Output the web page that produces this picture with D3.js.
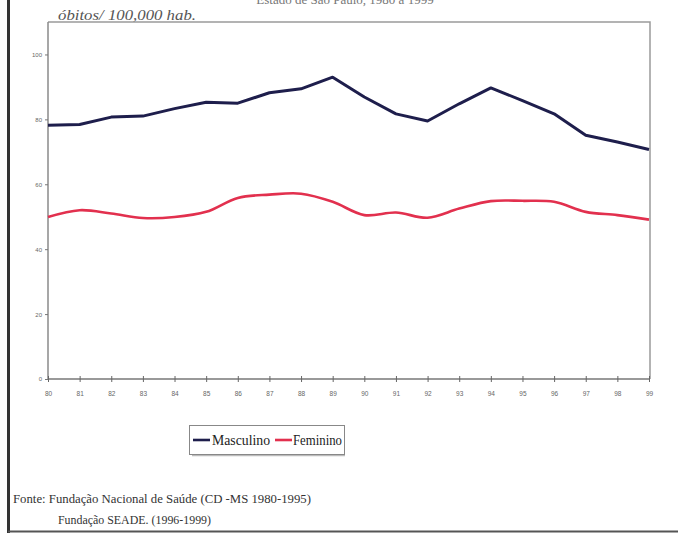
<!DOCTYPE html>
<html>
<head>
<meta charset="utf-8">
<script src="https://cdn.jsdelivr.net/npm/d3@7"></script>
<style>
  html, body { margin: 0; padding: 0; background: #fff; }
  svg { display: block; }
  .serif { font-family: "Liberation Serif", "Times New Roman", "DejaVu Serif", serif; }
  .sans { font-family: "Liberation Sans", Arial, sans-serif; }
</style>
</head>
<body>
<svg id="chart" width="678" height="533"></svg>
<script>
// Mortality rate per 100,000 inhabitants, 1980–1999
const years = ["80","81","82","83","84","85","86","87","88","89",
               "90","91","92","93","94","95","96","97","98","99"];
const masculino = [78.2, 78.4, 80.7, 81.0, 83.3, 85.3, 85.0, 88.2, 89.4, 93.0,
                   86.9, 81.7, 79.5, 84.8, 89.7, 85.8, 81.7, 75.1, 73.0, 70.7];
const feminino  = [49.9, 52.0, 51.0, 49.6, 49.9, 51.5, 55.8, 56.8, 57.1, 54.6,
                   50.5, 51.3, 49.7, 52.5, 54.8, 54.9, 54.6, 51.5, 50.5, 49.1];
const yTicks = [0, 20, 40, 60, 80, 100];
const seriesNames = ["Masculino", "Feminino"];
const seriesColors = ["#1e1e4c", "#e2304e"];

const svg = d3.select("#chart");

const plotL = 48, plotR = 649, plotT = 22, plotB = 379;
const x = d3.scalePoint().domain(years).range([plotL, plotR]);
const y = d3.scaleLinear().domain([0, 110]).range([plotB, plotT]);

// page border on the left and bottom
svg.append("line").attr("x1", 8.5).attr("x2", 8.5).attr("y1", 0).attr("y2", 533)
  .attr("stroke", "#333").attr("stroke-width", 3);
svg.append("line").attr("x1", 8).attr("x2", 678).attr("y1", 531.5).attr("y2", 531.5)
  .attr("stroke", "#555").attr("stroke-width", 2);

// heading running off the top edge of the page
svg.append("text").attr("class", "serif").attr("x", 345).attr("y", 4)
  .attr("text-anchor", "middle").attr("font-size", 13)
  .attr("fill", "#777").text("Estado de São Paulo, 1980 a 1999");

// plot frame (top and right edges)
svg.append("path")
  .attr("d", `M${plotL},${plotT}H${plotR + 1}V${plotB}`)
  .attr("fill", "none").attr("stroke", "#9a9a9a").attr("stroke-width", 1.5);

// unit label
svg.append("text").attr("class", "serif").attr("x", 58).attr("y", 20)
  .attr("font-style", "italic").attr("font-size", 14).attr("fill", "#555")
  .attr("textLength", 138).attr("lengthAdjust", "spacingAndGlyphs")
  .text("óbitos/ 100,000 hab.");

// y axis
const yAxis = d3.axisLeft(y).tickValues(yTicks).tickSize(3).tickSizeOuter(0);
const gy = svg.append("g").attr("transform", `translate(${plotL},0)`).call(yAxis)
  .attr("font-family", null);
gy.select(".domain").attr("stroke", "#8a8a8a").attr("stroke-width", 1.5)
  .attr("d", `M0,${plotT}V${plotB}`);
gy.selectAll(".tick line").attr("stroke", "#777");
gy.selectAll(".tick text").attr("class", "sans")
  .attr("font-size", 6).attr("fill", "#666").attr("x", -6);

// x axis
const xAxis = d3.axisBottom(x).tickSize(3).tickSizeOuter(0);
const gx = svg.append("g").attr("transform", `translate(0,${plotB})`).call(xAxis)
  .attr("font-family", null);
gx.select(".domain").attr("stroke", "#777").attr("stroke-width", 1.5)
  .attr("d", `M${plotL},0H${plotR + 1}`);
gx.selectAll(".tick line").attr("stroke", "#666").attr("y1", -3).attr("y2", 3);
gx.selectAll(".tick text").attr("class", "sans")
  .attr("font-size", 6.5).attr("fill", "#666").attr("y", 12);

// series lines
const lineSharp = d3.line().x((d, i) => x(years[i])).y(d => y(d));
const lineSmooth = d3.line().x((d, i) => x(years[i])).y(d => y(d))
  .curve(d3.curveCatmullRom.alpha(0.5));

svg.append("path").datum(masculino).attr("d", lineSharp)
  .attr("fill", "none").attr("stroke", seriesColors[0]).attr("stroke-width", 3)
  .attr("stroke-linejoin", "round");
svg.append("path").datum(feminino).attr("d", lineSmooth)
  .attr("fill", "none").attr("stroke", seriesColors[1]).attr("stroke-width", 2.6)
  .attr("stroke-linejoin", "round");

// legend
const lg = svg.append("g");
lg.append("line").attr("x1", 192).attr("x2", 345).attr("y1", 455.5).attr("y2", 455.5)
  .attr("stroke", "#bbb").attr("stroke-width", 1.5);
lg.append("rect").attr("x", 189.5).attr("y", 425.5).attr("width", 155).attr("height", 29)
  .attr("fill", "#fff").attr("stroke", "#888").attr("stroke-width", 1);
const legendItems = [
  { name: seriesNames[0], color: seriesColors[0], x0: 193, tx: 212, w: 58 },
  { name: seriesNames[1], color: seriesColors[1], x0: 275, tx: 293, w: 49 }
];
legendItems.forEach(it => {
  lg.append("line").attr("x1", it.x0).attr("x2", it.x0 + 17).attr("y1", 440).attr("y2", 440)
    .attr("stroke", it.color).attr("stroke-width", 2.6);
  lg.append("text").attr("class", "serif").attr("x", it.tx).attr("y", 445)
    .attr("font-size", 15).attr("fill", "#222")
    .attr("textLength", it.w).attr("lengthAdjust", "spacingAndGlyphs")
    .text(it.name);
});

// source notes
svg.append("text").attr("class", "serif").attr("x", 13).attr("y", 503)
  .attr("font-size", 13).attr("fill", "#333")
  .attr("textLength", 298).attr("lengthAdjust", "spacingAndGlyphs")
  .text("Fonte: Fundação Nacional de Saúde (CD -MS 1980-1995)");
svg.append("text").attr("class", "serif").attr("x", 58).attr("y", 524)
  .attr("font-size", 13).attr("fill", "#333")
  .attr("textLength", 153).attr("lengthAdjust", "spacingAndGlyphs")
  .text("Fundação SEADE. (1996-1999)");
</script>
</body>
</html>
